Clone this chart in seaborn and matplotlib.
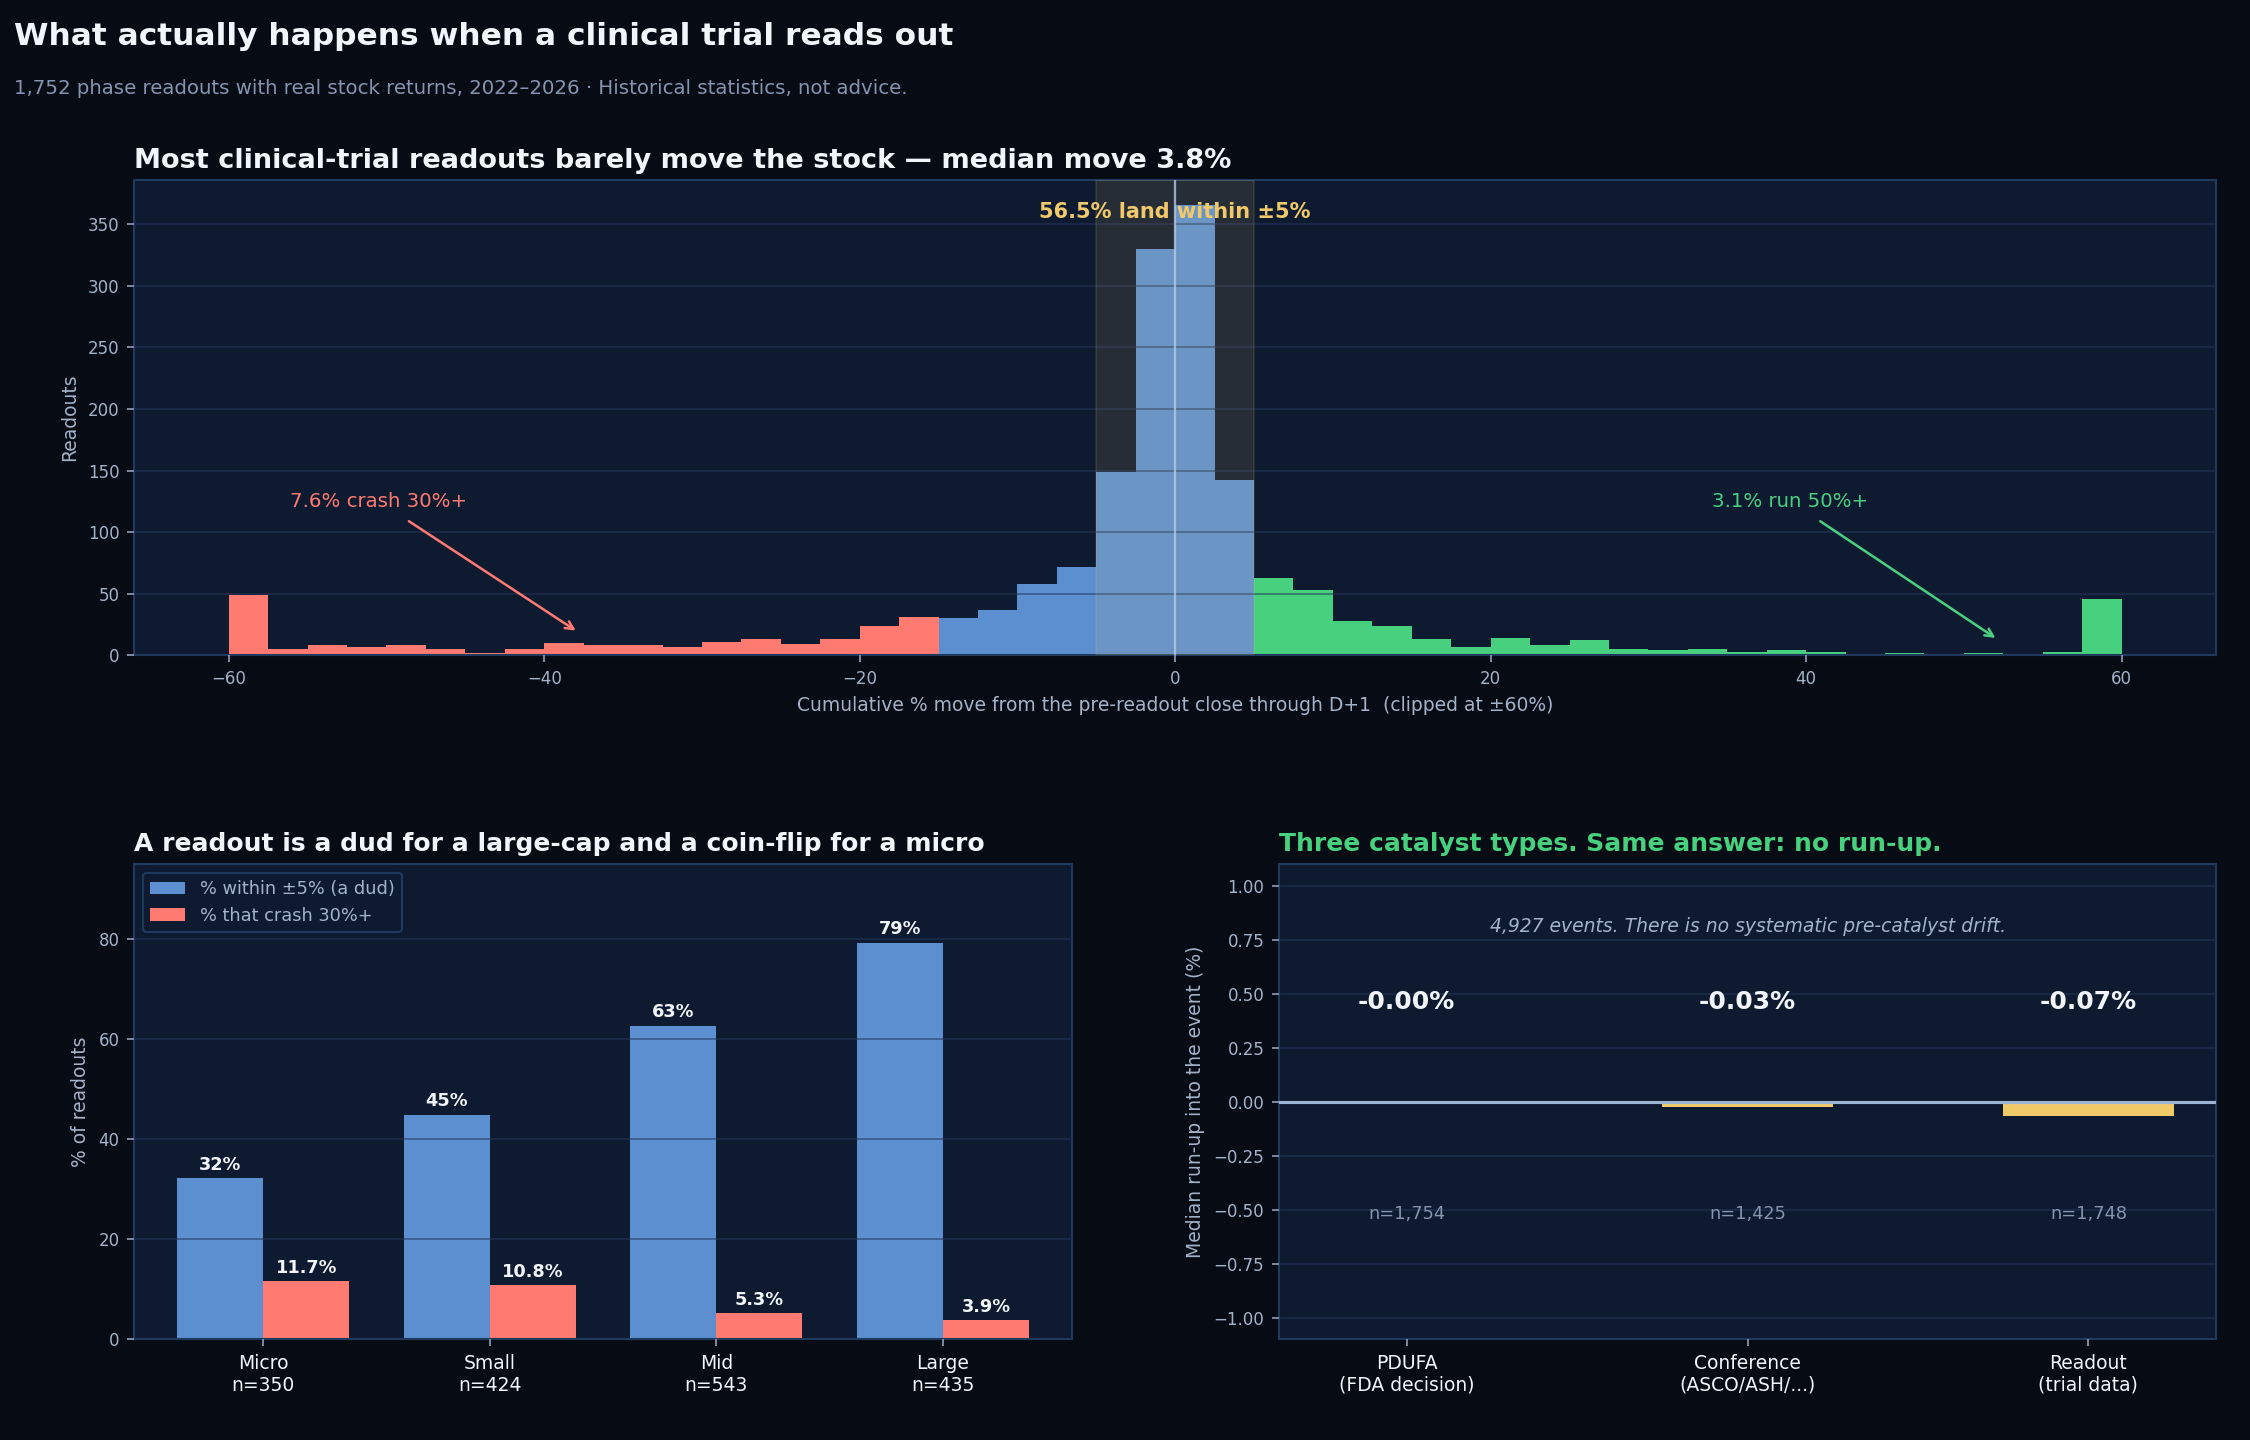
import numpy as np
import pandas as pd
import matplotlib
matplotlib.use("Agg")
import matplotlib.pyplot as plt
import seaborn as sns

# --- data ---
# histogram: 2.5-pt bins from -60 to +60, counts per bin
bin_edges = np.arange(-60, 60.01, 2.5)
bin_counts = [49, 5, 8, 7, 8, 5, 2, 5, 10, 8, 8, 7, 11, 13, 9, 13, 24, 31,
              30, 37, 58, 72, 149, 330, 366, 142,
              63, 53, 28, 24, 13, 7, 14, 8, 12, 5, 4, 5, 3, 4, 3, 1, 2, 1, 2, 0, 3, 46]

cap_labels = ["Micro\nn=350", "Small\nn=424", "Mid\nn=543", "Large\nn=435"]
pct_dud = [32.2, 44.9, 62.7, 79.3]
pct_crash = [11.7, 10.8, 5.3, 3.9]

cat_labels = ["PDUFA\n(FDA decision)", "Conference\n(ASCO/ASH/...)", "Readout\n(trial data)"]
runup = [-0.003, -0.027, -0.068]
runup_n = ["n=1,754", "n=1,425", "n=1,748"]

# --- colours ---
BG = "#070b14"
PANEL = "#0e1a30"
GRID = "#22375a"
SPINE = "#1f3a5f"
TXT = "#f2f5fa"
MUTED = "#a3b3c9"
BLUE = "#5b8fd0"
RED = "#ff7a70"
GREEN = "#47d17f"
YELLOW = "#f0c96a"

sns.set_theme(style="dark")
plt.rcParams["font.family"] = ["DejaVu Sans"]
plt.rcParams.update({
    "figure.facecolor": BG,
    "axes.facecolor": PANEL,
    "axes.edgecolor": SPINE,
    "axes.labelcolor": MUTED,
    "xtick.color": MUTED,
    "ytick.color": MUTED,
    "xtick.labelsize": 8,
    "ytick.labelsize": 8,
    "axes.labelsize": 9,
})

fig = plt.figure(figsize=(15, 9.6), dpi=150)
ax1 = fig.add_axes([0.0596, 0.545, 0.9254, 0.330])
ax2 = fig.add_axes([0.0596, 0.070, 0.4169, 0.330])
ax3 = fig.add_axes([0.5684, 0.070, 0.4166, 0.330])


def style(ax):
    for s in ax.spines.values():
        s.set_visible(True)
        s.set_color(SPINE)
        s.set_linewidth(1.0)
    ax.tick_params(axis="both", length=3.5, width=0.8, color="#8fa0b8", bottom=True, left=True)
    ax.set_axisbelow(False)
    ax.yaxis.grid(True, color=GRID, alpha=0.6, linewidth=0.8)
    ax.xaxis.grid(False)


fig.text(0.006, 0.969, "What actually happens when a clinical trial reads out",
         color=TXT, fontsize=15, fontweight="bold", va="baseline")
fig.text(0.006, 0.935, "1,752 phase readouts with real stock returns, 2022\u20132026 \u00b7 Historical statistics, not advice.",
         color="#8595b0", fontsize=9.5, va="baseline")

# --- top: distribution of moves ---
centers = bin_edges[:-1] + 1.25
zone = np.where(centers < -15, "crash", np.where(centers > 5, "run", "flat"))
hist_df = pd.DataFrame({"move": centers, "n": bin_counts, "zone": zone})
sns.histplot(data=hist_df, x="move", weights="n", binwidth=2.5, binrange=(-60, 60), hue="zone",
             hue_order=["crash", "flat", "run"],
             palette={"crash": RED, "flat": BLUE, "run": GREEN},
             multiple="layer", alpha=1, linewidth=0, legend=False, ax=ax1)
style(ax1)
ax1.axvspan(-5, 5, color=YELLOW, alpha=0.11, zorder=3)
ax1.axvline(0, color="#b5c8e4", linewidth=1.1, alpha=0.8, zorder=4)
ax1.set_xlim(-66, 66)
ax1.set_ylim(0, 386)
ax1.set_xticks(np.arange(-60, 61, 20))
ax1.set_yticks(np.arange(0, 351, 50))
ax1.set_xlabel("Cumulative % move from the pre-readout close through D+1  (clipped at \u00b160%)")
ax1.set_ylabel("Readouts")
ax1.set_title("Most clinical-trial readouts barely move the stock \u2014 median move 3.8%",
              loc="left", color=TXT, fontsize=13, fontweight="bold", pad=6)
ax1.text(0, 0.933, "56.5% land within \u00b15%", transform=ax1.get_xaxis_transform(),
         ha="center", va="center", color=YELLOW, fontsize=10, fontweight="bold", zorder=5)
ax1.annotate("7.6% crash 30%+", xy=(-38, 20), xytext=(-50.5, 125), color=RED, fontsize=9.5,
             ha="center", va="center",
             arrowprops=dict(arrowstyle="->", color=RED, lw=1.2, shrinkA=5, shrinkB=0))
ax1.annotate("3.1% run 50%+", xy=(52, 14), xytext=(39, 125), color=GREEN, fontsize=9.5,
             ha="center", va="center",
             arrowprops=dict(arrowstyle="->", color=GREEN, lw=1.2, shrinkA=5, shrinkB=0))

# --- bottom left: by market cap ---
cap_df = pd.DataFrame({
    "cap": cap_labels * 2,
    "pct": pct_dud + pct_crash,
    "metric": ["% within \u00b15% (a dud)"] * 4 + ["% that crash 30%+"] * 4,
})
sns.barplot(data=cap_df, x="cap", y="pct", hue="metric",
            palette=[BLUE, RED], width=0.76, saturation=1, linewidth=0, ax=ax2)
style(ax2)
ax2.set_xlim(-0.57, 3.57)
ax2.set_ylim(0, 95)
ax2.set_yticks([0, 20, 40, 60, 80])
ax2.set_xlabel("")
ax2.set_ylabel("% of readouts")
ax2.tick_params(axis="x", labelcolor=TXT, labelsize=9)
ax2.bar_label(ax2.containers[0], fmt="%.0f%%", padding=2, color=TXT, fontsize=8.5, fontweight="bold")
ax2.bar_label(ax2.containers[1], fmt="%.1f%%", padding=2, color=TXT, fontsize=8.5, fontweight="bold")
leg = ax2.legend(loc="upper left", fontsize=8.5, facecolor=PANEL, edgecolor=SPINE,
                 labelcolor=MUTED, framealpha=1, handlelength=2.0)
ax2.set_title("A readout is a dud for a large-cap and a coin-flip for a micro",
              loc="left", color=TXT, fontsize=12, fontweight="bold", pad=6)

# --- bottom right: pre-catalyst run-up ---
run_df = pd.DataFrame({"cat": cat_labels, "runup": runup})
sns.barplot(data=run_df, x="cat", y="runup", color=YELLOW, width=0.5,
            saturation=1, linewidth=0, ax=ax3)
style(ax3)
ax3.axhline(0, color="#9db4d6", linewidth=1.5, zorder=4)
ax3.set_xlim(-0.375, 2.375)
ax3.set_ylim(-1.1, 1.1)
yt = np.arange(-1.0, 1.01, 0.25)
ax3.set_yticks(yt)
ax3.set_yticklabels([f"{t:.2f}".replace("-", "\u2212") for t in yt])
ax3.set_xlabel("")
ax3.set_ylabel("Median run-up into the event (%)")
ax3.tick_params(axis="x", labelcolor=TXT, labelsize=9)
for i, (v, n) in enumerate(zip(runup, runup_n)):
    ax3.text(i, 0.46, f"{v:.2f}%", ha="center", va="center", color=TXT,
             fontsize=12, fontweight="bold")
    ax3.text(i, -0.52, n, ha="center", va="center", color="#8595b0", fontsize=8.5)
ax3.text(1, 0.81, "4,927 events. There is no systematic pre-catalyst drift.",
         ha="center", va="center", color=MUTED, fontsize=9, style="italic")
ax3.set_title("Three catalyst types. Same answer: no run-up.",
              loc="left", color=GREEN, fontsize=12, fontweight="bold", pad=6)

fig.savefig("out.png", dpi=150, facecolor=BG)
